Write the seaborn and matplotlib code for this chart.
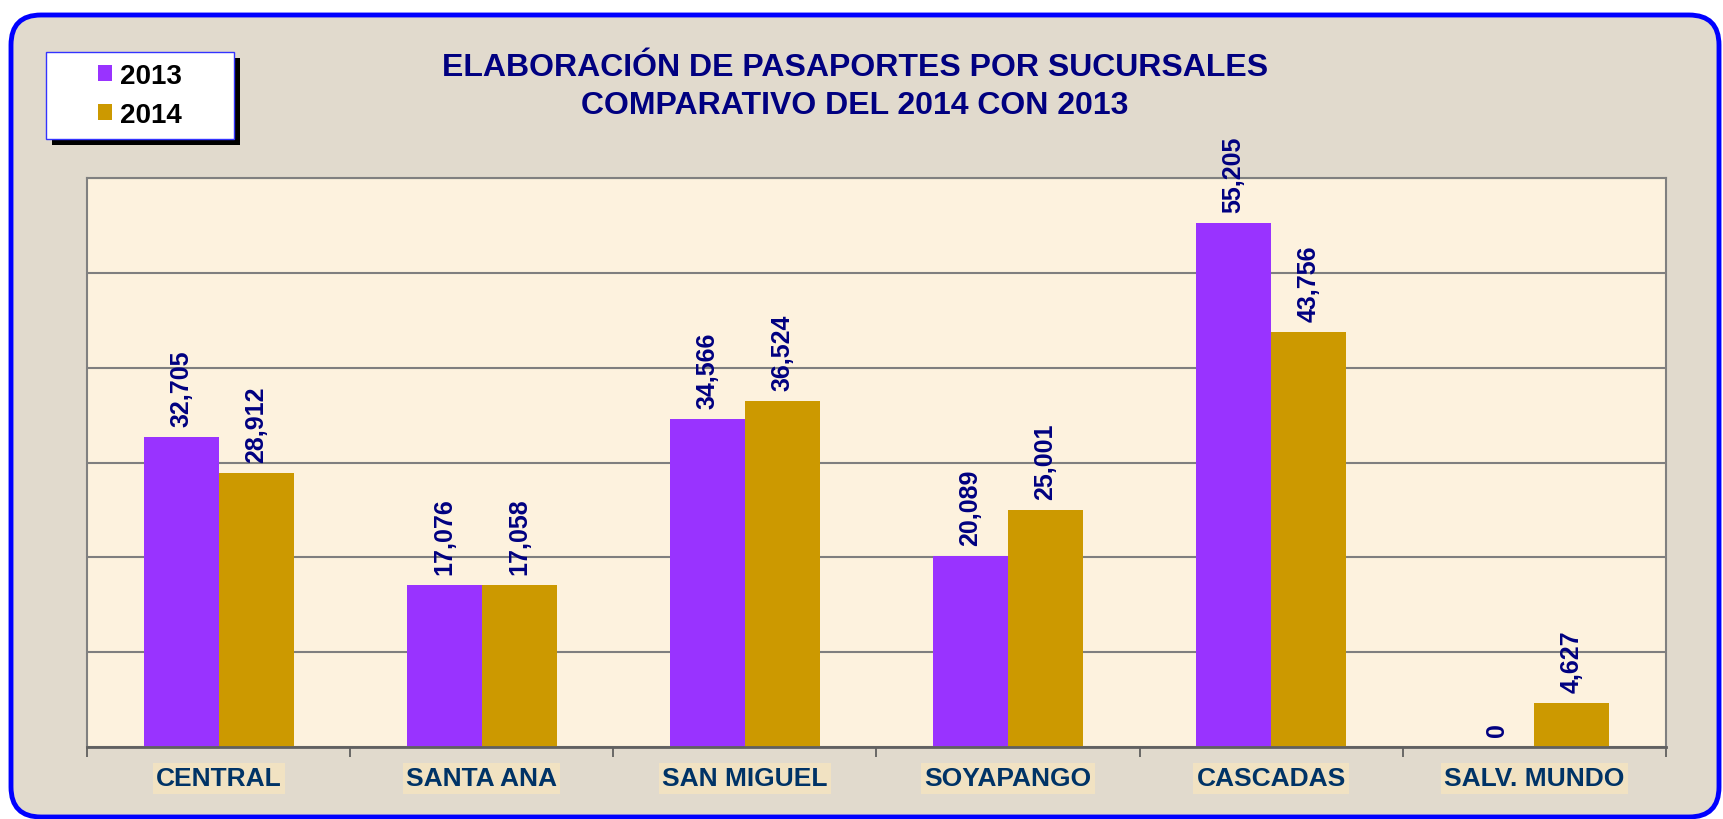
import matplotlib
matplotlib.use('Agg')
import matplotlib.pyplot as plt
import seaborn as sns
import pandas as pd
from matplotlib.patches import FancyBboxPatch, Rectangle
from matplotlib.transforms import IdentityTransform

categories = ["CENTRAL", "SANTA ANA", "SAN MIGUEL", "SOYAPANGO", "CASCADAS", "SALV. MUNDO"]
years = ["2013", "2014"]
values_2013 = [32705, 17076, 34566, 20089, 55205, 0]
values_2014 = [28912, 17058, 36524, 25001, 43756, 4627]
title_lines = ["ELABORACIÓN DE PASAPORTES POR SUCURSALES", "COMPARATIVO DEL 2014 CON 2013"]
colors = ["#9933FF", "#CC9900"]

df = pd.DataFrame({
    "Sucursal": categories * 2,
    "Año": [years[0]] * len(categories) + [years[1]] * len(categories),
    "Pasaportes": values_2013 + values_2014,
})

sns.set_theme(style="white")
plt.rcParams['font.family'] = ['Liberation Sans', 'DejaVu Sans']

W, H = 1724, 820
fig = plt.figure(figsize=(W / 100, H / 100), dpi=100, facecolor='white')

# outer rounded frame
frame = FancyBboxPatch((11, 2), 1708, 802, boxstyle='round,pad=0,rounding_size=30',
                       transform=IdentityTransform(), fc='#E1DACD', ec='#0000FF',
                       lw=3.5, zorder=-10)
fig.add_artist(frame)

ax = fig.add_axes([87 / W, 72 / H, (1666 - 87) / W, (748 - 179) / H])
ax.set_facecolor('#FDF2DE')

sns.barplot(data=df, x="Sucursal", y="Pasaportes", hue="Año", order=categories,
            hue_order=years, palette=colors, width=0.57, gap=0, saturation=1,
            ax=ax, edgecolor='none', linewidth=0, errorbar=None)

for c in ax.containers:
    ax.bar_label(c, labels=[f"{v:,.0f}" for v in c.datavalues], rotation=90,
                 padding=8, fontsize=18, fontweight='bold', color='#000080')

ax.set_ylim(0, 60000)
ax.set_xlim(-0.5, len(categories) - 0.5)
ax.set_yticks(range(0, 60001, 10000))
ax.set_yticklabels([])
ax.tick_params(axis='y', length=0)
ax.yaxis.grid(True, color='#7F7F7F', lw=1.5)
ax.set_axisbelow(True)
ax.set_xlabel('')
ax.set_ylabel('')

ax.set_xticks([i - 0.5 for i in range(len(categories) + 1)], minor=True)
ax.tick_params(axis='x', which='minor', length=7, width=1.2, color='#555555',
               direction='out', bottom=True)
ax.tick_params(axis='x', which='major', length=0, pad=14, labelsize=19,
               labelcolor='#003366')
for lab in ax.get_xticklabels():
    lab.set_fontweight('bold')
    lab.set_bbox(dict(boxstyle='square,pad=0.12', fc='#F1E2C2', ec='none'))

for s in ax.spines.values():
    s.set_color('#808080')
    s.set_linewidth(1.5)
ax.spines['bottom'].set_color('#606060')
ax.spines['bottom'].set_linewidth(2)

# legend box with shadow
shadow = Rectangle((46 + 6, H - 140 - 6), 188, 87, transform=IdentityTransform(),
                   fc='black', ec='none', zorder=4)
box = Rectangle((46, H - 140), 188, 87, transform=IdentityTransform(),
                fc='white', ec='#3333FF', lw=1, zorder=4.5)
fig.add_artist(shadow)
fig.add_artist(box)

handles, labels = ax.get_legend_handles_labels()
if ax.legend_ is not None:
    ax.legend_.remove()
leg = fig.legend(handles, labels, loc='center', bbox_to_anchor=(140 / W, 1 - 96.5 / H),
                 frameon=False, prop={'weight': 'bold', 'size': 20},
                 handlelength=0.5, handleheight=0.5, handletextpad=0.3,
                 labelspacing=0.45)
leg.set_zorder(10)
for t in leg.get_texts():
    t.set_color('black')

fig.text(855 / W, 1 - 68 / H, title_lines[0], ha='center', va='center',
         fontsize=23, fontweight='bold', color='#000080')
fig.text(855 / W, 1 - 106 / H, title_lines[1], ha='center', va='center',
         fontsize=23, fontweight='bold', color='#000080')

fig.savefig('out.png', dpi=100, facecolor='white')
